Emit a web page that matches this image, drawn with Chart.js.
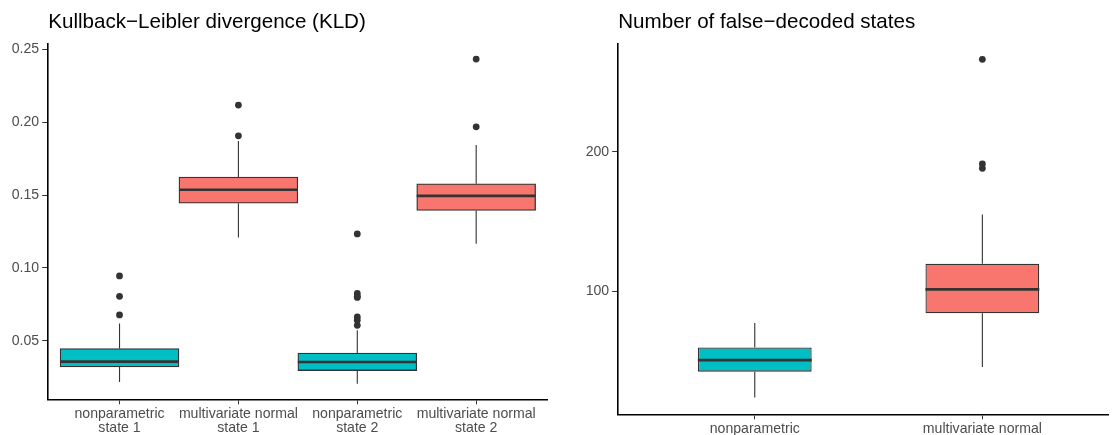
<!DOCTYPE html>
<html>
<head>
<meta charset="utf-8">
<script src="https://cdn.jsdelivr.net/npm/chart.js@4/dist/chart.umd.min.js"></script>
<style>
  html, body { margin: 0; padding: 0; background: #ffffff; }
  #wrap { position: relative; width: 1112px; height: 435px; overflow: hidden; }
  #c1 { position: absolute; left: 0; top: 0; }
  #c2 { position: absolute; left: 560px; top: 0; }
</style>
</head>
<body>
<div id="wrap">
  <canvas id="c1" width="560" height="435"></canvas>
  <canvas id="c2" width="552" height="435"></canvas>
</div>
<script>
// ---------- Data: Kullback-Leibler divergence ----------
const kldTitle = 'Kullback\u2212Leibler divergence (KLD)';
const kldCategories = [
  ['nonparametric', 'state 1'],
  ['multivariate normal', 'state 1'],
  ['nonparametric', 'state 2'],
  ['multivariate normal', 'state 2']
];
const kldLowerWhisker = [0.0217, 0.1208, 0.0205, 0.1165];
const kldQ1           = [0.0320, 0.1444, 0.0295, 0.1394];
const kldMedian       = [0.0357, 0.1536, 0.0354, 0.1494];
const kldQ3           = [0.0446, 0.1623, 0.0416, 0.1577];
const kldUpperWhisker = [0.0618, 0.1870, 0.0572, 0.1843];
const kldOutliers = [
  [0.0945, 0.0805, 0.0677],
  [0.2117, 0.1906],
  [0.1233, 0.0824, 0.0805, 0.0797, 0.0663, 0.0641, 0.0606],
  [0.2433, 0.1968]
];
const kldTicks = [0.05, 0.10, 0.15, 0.20, 0.25];
const kldTickLabels = ['0.05', '0.10', '0.15', '0.20', '0.25'];

// ---------- Data: Number of false-decoded states ----------
const fdsTitle = 'Number of false\u2212decoded states';
const fdsCategories = ['nonparametric', 'multivariate normal'];
const fdsLowerWhisker = [23.6, 45.4];
const fdsQ1           = [42.1, 84.0];
const fdsMedian       = [50.4, 101.2];
const fdsQ3           = [59.4, 119.6];
const fdsUpperWhisker = [77.0, 155.0];
const fdsOutliers = [
  [],
  [266.3, 191.2, 188.1]
];
const fdsTicks = [100, 200];
const fdsTickLabels = ['100', '200'];

// fill colours per category
const kldColors = ['#00BFC4', '#F8766D', '#00BFC4', '#F8766D'];
const fdsColors = ['#00BFC4', '#F8766D'];

const FONT = "'Liberation Sans', Arial, Helvetica, sans-serif";

function boxPartsPlugin(stats) {
  return {
    id: 'boxParts',
    beforeDatasetsDraw(chart) {
      const ctx = chart.ctx;
      const ys = chart.scales.y;
      const meta = chart.getDatasetMeta(0);
      ctx.save();
      ctx.strokeStyle = '#333333';
      ctx.lineWidth = 1.1;
      meta.data.forEach((bar, i) => {
        const x = bar.x;
        ctx.beginPath();
        ctx.moveTo(x, ys.getPixelForValue(stats.q3[i]));
        ctx.lineTo(x, ys.getPixelForValue(stats.upper[i]));
        ctx.moveTo(x, ys.getPixelForValue(stats.q1[i]));
        ctx.lineTo(x, ys.getPixelForValue(stats.lower[i]));
        ctx.stroke();
      });
      ctx.restore();
    },
    afterDatasetsDraw(chart) {
      const ctx = chart.ctx;
      const ys = chart.scales.y;
      const meta = chart.getDatasetMeta(0);
      ctx.save();
      ctx.strokeStyle = '#333333';
      ctx.lineWidth = 2.7;
      meta.data.forEach((bar, i) => {
        const y = ys.getPixelForValue(stats.median[i]);
        ctx.beginPath();
        ctx.moveTo(bar.x - bar.width / 2, y);
        ctx.lineTo(bar.x + bar.width / 2, y);
        ctx.stroke();
      });
      ctx.restore();
    }
  };
}

function makeBoxChart(canvasId, o) {
  const xs = o.categories.map((_, i) => i + 1);
  const barData = xs.map((x, i) => ({ x: x, y: [o.q1[i], o.q3[i]] }));
  const pts = [];
  o.outliers.forEach((arr, i) => arr.forEach(v => pts.push({ x: xs[i], y: v })));
  return new Chart(document.getElementById(canvasId), {
    type: 'bar',
    data: {
      datasets: [
        {
          type: 'bar',
          data: barData,
          backgroundColor: o.colors,
          borderColor: '#333333',
          borderWidth: 1.3,
          borderSkipped: false,
          barPercentage: 1,
          categoryPercentage: o.boxWidth,
          order: 2
        },
        {
          type: 'scatter',
          data: pts,
          pointRadius: 3.4,
          pointBackgroundColor: '#333333',
          pointBorderWidth: 0,
          showLine: false,
          order: 1
        }
      ]
    },
    options: {
      responsive: false,
      animation: false,
      events: [],
      layout: { padding: { left: 0, right: o.padRight, top: 0, bottom: 0 } },
      plugins: {
        legend: { display: false },
        tooltip: { enabled: false },
        title: {
          display: true,
          text: o.title,
          align: 'start',
          fullSize: false,
          color: '#000000',
          font: { family: FONT, size: 20.6, weight: 'normal', lineHeight: 1.2 },
          padding: { top: 10.2, bottom: 8.4 }
        }
      },
      scales: {
        x: {
          type: 'linear',
          min: 0.4,
          max: o.xMax,
          offset: false,
          afterBuildTicks: s => { s.ticks = xs.map(v => ({ value: v })); },
          afterFit: s => { s.height = o.xAxisHeight; },
          grid: { display: true, offset: false, drawOnChartArea: false, drawTicks: true, tickLength: 5, color: '#333333', lineWidth: 1 },
          border: { display: true, color: '#000000', width: 1.6 },
          ticks: {
            color: '#4D4D4D',
            font: { family: FONT, size: 14.1, lineHeight: 1.0 },
            padding: 3,
            maxRotation: 0,
            minRotation: 0,
            autoSkip: false,
            callback: (v, i) => o.categories[i]
          }
        },
        y: {
          type: 'linear',
          min: o.yMin,
          max: o.yMax,
          afterBuildTicks: s => { s.ticks = o.yTicks.map(v => ({ value: v })); },
          afterFit: s => { s.width = o.yAxisWidth; },
          grid: { display: true, offset: false, drawOnChartArea: false, drawTicks: true, tickLength: 6, color: '#333333', lineWidth: 1 },
          border: { display: true, color: '#000000', width: 1.6 },
          ticks: {
            color: '#4D4D4D',
            font: { family: FONT, size: 14.1 },
            padding: 3,
            autoSkip: false,
            callback: (v, i) => o.yTickLabels[i]
          }
        }
      }
    },
    plugins: [boxPartsPlugin({ lower: o.lower, q1: o.q1, median: o.median, q3: o.q3, upper: o.upper })]
  });
}

makeBoxChart('c1', {
  title: kldTitle,
  categories: kldCategories,
  lower: kldLowerWhisker, q1: kldQ1, median: kldMedian, q3: kldQ3, upper: kldUpperWhisker,
  outliers: kldOutliers,
  colors: kldColors,
  yTicks: kldTicks, yTickLabels: kldTickLabels,
  yMin: 0.0098, yMax: 0.2541,
  xMax: 4.6,
  boxWidth: 1.0,
  padRight: 12.5,
  yAxisWidth: 48.2,
  xAxisHeight: 35.7
});

makeBoxChart('c2', {
  title: fdsTitle,
  categories: fdsCategories,
  lower: fdsLowerWhisker, q1: fdsQ1, median: fdsMedian, q3: fdsQ3, upper: fdsUpperWhisker,
  outliers: fdsOutliers,
  colors: fdsColors,
  yTicks: fdsTicks, yTickLabels: fdsTickLabels,
  yMin: 11.5, yMax: 277.8,
  xMax: 2.552,
  boxWidth: 0.5,
  padRight: 0,
  yAxisWidth: 58.2,
  xAxisHeight: 20.7
});
</script>
</body>
</html>
